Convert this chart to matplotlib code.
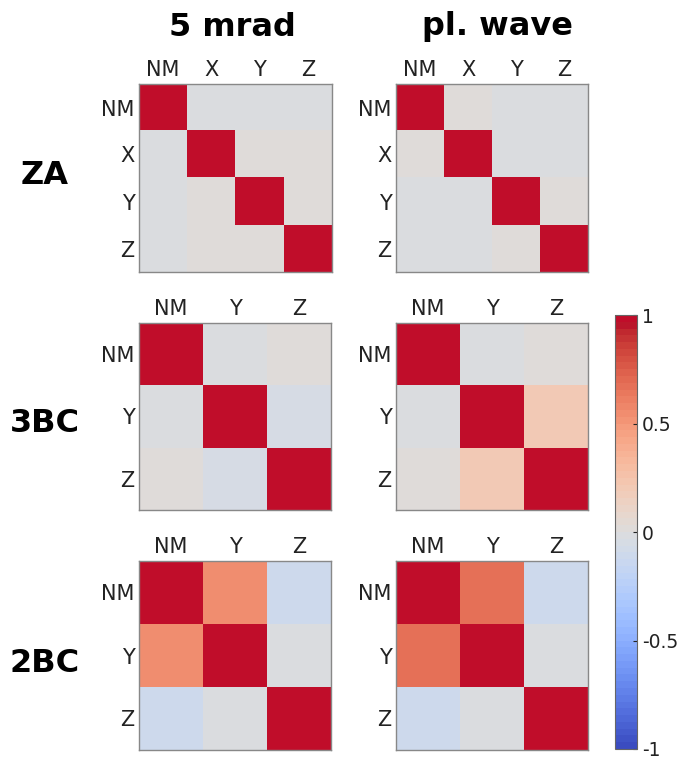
import numpy as np
import matplotlib
matplotlib.use('Agg')
import matplotlib.pyplot as plt
from matplotlib.colors import ListedColormap

# correlation matrices
za_labels = ['NM', 'X', 'Y', 'Z']
bc_labels = ['NM', 'Y', 'Z']

za_5mrad = [[1.0, -0.02, -0.02, -0.02],
            [-0.02, 1.0, 0.02, 0.02],
            [-0.02, 0.02, 1.0, 0.02],
            [-0.02, 0.02, 0.02, 1.0]]
za_plwave = [[1.0, 0.02, -0.02, -0.02],
             [0.02, 1.0, -0.02, -0.02],
             [-0.02, -0.02, 1.0, 0.02],
             [-0.02, -0.02, 0.02, 1.0]]
bc3_5mrad = [[1.0, -0.02, 0.02],
             [-0.02, 1.0, -0.06],
             [0.02, -0.06, 1.0]]
bc3_plwave = [[1.0, -0.02, 0.02],
              [-0.02, 1.0, 0.2],
              [0.02, 0.2, 1.0]]
bc2_5mrad = [[1.0, 0.56, -0.1],
             [0.56, 1.0, -0.02],
             [-0.1, -0.02, 1.0]]
bc2_plwave = [[1.0, 0.68, -0.1],
              [0.68, 1.0, -0.02],
              [-0.1, -0.02, 1.0]]

col_titles = ['5 mrad', 'pl. wave']
row_titles = ['ZA', '3BC', '2BC']

W, H = 686, 759
colors = plt.get_cmap('coolwarm')(np.linspace(0, 1, 64))
colors[-1] = [0.753, 0.051, 0.165, 1.0]   # top red is a bit brighter in the original
cmap = ListedColormap(colors)

fig = plt.figure(figsize=(W / 100, H / 100), dpi=100)

def box(x0, y0, x1, y1):
    return [x0 / W, 1 - y1 / H, (x1 - x0) / W, (y1 - y0) / H]

panels = [
    (za_5mrad, za_labels, box(139, 84, 332, 272)),
    (za_plwave, za_labels, box(396, 84, 588, 272)),
    (bc3_5mrad, bc_labels, box(139, 323, 331, 510)),
    (bc3_plwave, bc_labels, box(396, 323, 588, 510)),
    (bc2_5mrad, bc_labels, box(139, 561, 331, 750)),
    (bc2_plwave, bc_labels, box(396, 561, 588, 750)),
]

im = None
for mat, labels, pos in panels:
    ax = fig.add_axes(pos)
    im = ax.imshow(np.array(mat), cmap=cmap, vmin=-1, vmax=1, aspect='auto')
    n = len(labels)
    ax.set_xticks(range(n))
    ax.set_yticks(range(n))
    ax.set_xticklabels(labels, fontsize=15, color='#222222')
    ax.set_yticklabels(labels, fontsize=15, color='#222222')
    ax.xaxis.tick_top()
    ax.tick_params(length=0, pad=3)
    for s in ax.spines.values():
        s.set_color('#888888')
        s.set_linewidth(1.0)

for x, t in zip([232, 497], col_titles):
    fig.text(x / W, 1 - 27 / H, t, ha='center', va='center',
             fontsize=23, fontweight='bold')
for y, t in zip([176, 424, 663], row_titles):
    fig.text(45 / W, 1 - y / H, t, ha='center', va='center',
             fontsize=23, fontweight='bold')

cax = fig.add_axes(box(615, 315, 637, 749))
cb = fig.colorbar(im, cax=cax, ticks=[-1, -0.5, 0, 0.5, 1])
cb.ax.set_yticklabels(['-1', '-0.5', '0', '0.5', '1'])
cb.ax.tick_params(labelsize=13.5, length=3, direction='in', colors='#222222')
cb.outline.set_edgecolor('#666666')

fig.savefig('out.png', dpi=100)
